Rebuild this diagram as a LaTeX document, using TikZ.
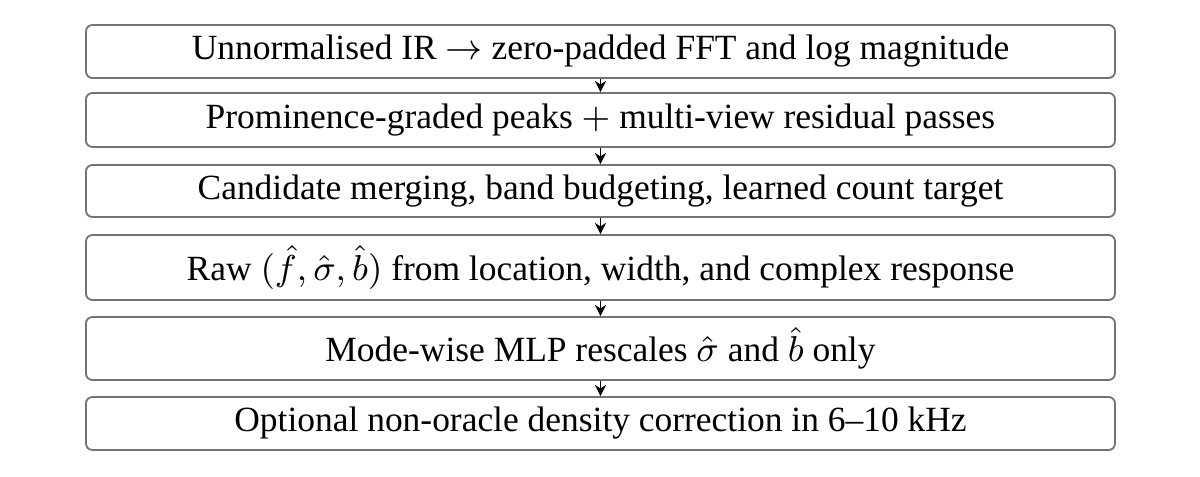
\documentclass[tikz,border=0pt]{standalone}
\usepackage[no-math]{fontspec}
\setmainfont{Liberation Serif}
\usetikzlibrary{arrows.meta}
\begin{document}
\begin{tikzpicture}[x=0.25pt,y=-0.25pt,
  stage/.style={draw=black!55, line width=0.45pt, rounded corners=1.6pt, minimum width=257.25pt, inner sep=0pt, font=\fontsize{8.86}{10.5}\selectfont, fill=white},
  flow/.style={draw=black, line width=0.4pt, -{Stealth[length=2.8pt,width=2.8pt]}}]
\useasboundingbox (0,0) rectangle (1200,477);
\node[stage, minimum height=13.25pt] (b1) at (600.5,51.5) {Unnormalised IR $\rightarrow$ zero-padded FFT and log magnitude};
\node[stage, minimum height=13.5pt] (b2) at (600.5,120) {Prominence-graded peaks $+$ multi-view residual passes};
\node[stage, minimum height=13pt] (b3) at (600.5,191) {Candidate merging, band budgeting, learned count target};
\node[stage, minimum height=16.25pt] (b4) at (600.5,267.5) {Raw $(\hat{f}, \hat{\sigma}, \hat{b})$ from location, width, and complex response};
\node[stage, minimum height=15.75pt] (b5) at (600.5,348.5) {Mode-wise MLP rescales $\hat{\sigma}$ and $\hat{b}$ only};
\node[stage, minimum height=13.25pt] (b6) at (600.5,423.5) {Optional non-oracle density correction in 6--10 kHz};
\draw[flow] (b1) -- (b2);
\draw[flow] (b2) -- (b3);
\draw[flow] (b3) -- (b4);
\draw[flow] (b4) -- (b5);
\draw[flow] (b5) -- (b6);
\end{tikzpicture}
\end{document}
